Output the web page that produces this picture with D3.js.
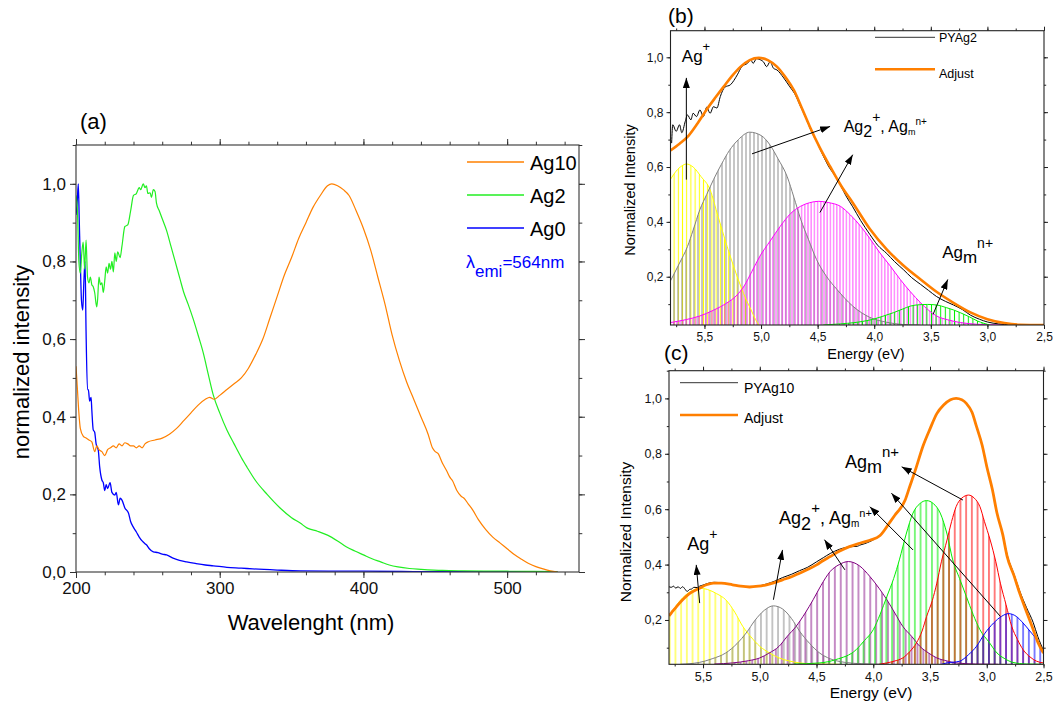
<!DOCTYPE html>
<html>
<head>
<meta charset="utf-8">
<script src="https://cdn.jsdelivr.net/npm/d3@7/dist/d3.min.js"></script>
<style>
body { margin: 0; background: #fff; }
svg text { font-family: "Liberation Sans", Arial, sans-serif; }
</style>
</head>
<body>
<div id="chart"></div>
<script>
"use strict";

// ---- panel (a): excitation spectra, [wavelength nm, normalized intensity]
const ag10 = [[200,0.53],[201,0.47],[202,0.41],[203,0.37],[205,0.35],[207,0.345],[209,0.34],[211,0.335],[213,0.31],[214.5,0.325],[216,0.315],[218,0.31],[220,0.30],[222,0.315],[224,0.32],[226,0.325],[228,0.32],[230,0.33],[232,0.325],[234,0.333],[236,0.33],[238,0.325],[240,0.325],[242,0.32],[244,0.325],[246,0.32],[248,0.33],[250,0.335],[255,0.34],[260,0.345],[265,0.355],[270,0.37],[275,0.39],[280,0.41],[285,0.43],[290,0.445],[293,0.45],[296,0.445],[300,0.455],[305,0.47],[310,0.485],[315,0.50],[320,0.525],[325,0.56],[330,0.60],[335,0.655],[340,0.71],[345,0.765],[350,0.81],[355,0.86],[360,0.90],[365,0.94],[370,0.97],[375,0.995],[378,1.0],[382,0.995],[386,0.985],[390,0.97],[395,0.93],[400,0.885],[405,0.83],[410,0.76],[415,0.69],[420,0.61],[425,0.545],[430,0.49],[435,0.445],[440,0.40],[445,0.355],[448,0.32],[450,0.31],[452,0.305],[455,0.28],[458,0.26],[460,0.245],[462,0.235],[465,0.21],[468,0.195],[470,0.19],[473,0.175],[476,0.16],[480,0.135],[485,0.11],[490,0.09],[495,0.075],[500,0.06],[505,0.045],[510,0.033],[515,0.022],[520,0.014],[525,0.008],[530,0.003],[535,0.0]];
const ag2 = [[200,0.97],[201,0.93],[202,0.80],[203,0.77],[204,0.82],[205,0.85],[206,0.78],[207,0.855],[208,0.76],[209,0.745],[210,0.76],[211,0.74],[212,0.735],[213,0.72],[214.4,0.683],[215,0.70],[216,0.76],[217,0.74],[218,0.745],[219,0.72],[220,0.75],[221,0.786],[222,0.77],[223,0.795],[224,0.78],[225,0.80],[226,0.773],[227,0.822],[228,0.80],[229,0.825],[230.7,0.81],[232,0.84],[234,0.89],[236,0.894],[238,0.93],[240,0.97],[242,0.975],[244,0.99],[245,0.985],[246.8,1.0],[248,0.99],[249,0.995],[250,0.975],[251.6,0.977],[252.5,0.965],[253.8,0.985],[255,0.98],[256,0.95],[258,0.93],[260,0.91],[263,0.88],[266,0.84],[269,0.80],[272.5,0.753],[275,0.72],[278,0.69],[281.7,0.65],[285,0.61],[288.6,0.564],[292,0.51],[295.6,0.455],[300,0.41],[305,0.366],[310,0.33],[315,0.295],[319,0.27],[325,0.235],[333,0.2],[342,0.165],[350,0.14],[356,0.126],[361,0.113],[368,0.105],[375,0.095],[382,0.08],[388,0.065],[394,0.054],[400,0.044],[406,0.034],[412,0.026],[418,0.018],[424,0.013],[432,0.009],[440,0.007],[455,0.004],[470,0.003],[500,0.002],[535,0.001]];
const ag0 = [[200,0.92],[200.8,0.95],[201.6,1.0],[202.3,0.90],[203,0.80],[203.8,0.70],[204.7,0.675],[205.5,0.75],[206.3,0.80],[207,0.62],[208,0.47],[208.6,0.47],[209.5,0.44],[210.5,0.45],[211,0.418],[212,0.366],[213,0.36],[214,0.33],[215.5,0.314],[216.5,0.27],[218,0.237],[219,0.23],[220,0.21],[221,0.225],[222,0.215],[223.7,0.23],[225,0.205],[227,0.198],[228,0.205],[229.5,0.173],[230.7,0.19],[232,0.185],[234,0.165],[236.5,0.152],[238,0.13],[240,0.115],[242,0.103],[244,0.09],[246,0.08],[248,0.073],[249,0.07],[251,0.06],[253.8,0.052],[257,0.05],[260,0.046],[263,0.044],[268,0.035],[272,0.03],[277,0.026],[283,0.022],[290,0.018],[295.6,0.016],[305,0.012],[315,0.01],[323,0.008],[340,0.005],[356,0.003],[400,0.002],[450,0.001],[535,0.001]];
const aSeries = ["Ag10", "Ag2", "Ag0"];
const aTicksX = [200, 300, 400, 500];
const aTicksY = [0, 0.2, 0.4, 0.6, 0.8, 1.0];

// ---- panel (b): PYAg2 deconvolution, [energy eV, normalized intensity]
const bData = [[5.79,0.687],[5.78,0.754],[5.75,0.73],[5.72,0.754],[5.70,0.725],[5.67,0.766],[5.65,0.79],[5.62,0.772],[5.60,0.796],[5.57,0.784],[5.54,0.808],[5.51,0.784],[5.48,0.818],[5.45,0.796],[5.42,0.82],[5.39,0.815],[5.36,0.857],[5.32,0.891],[5.27,0.90],[5.21,0.936],[5.17,0.966],[5.12,0.978],[5.09,0.99],[5.07,0.978],[5.04,0.995],[5.02,0.993],[5.0,0.99],[4.98,0.984],[4.95,0.966],[4.92,0.984],[4.89,0.96],[4.86,0.954],[4.80,0.925],[4.75,0.895],[4.70,0.865],[4.65,0.82],[4.60,0.775],[4.55,0.725],[4.50,0.685],[4.45,0.64],[4.40,0.60],[4.35,0.57],[4.30,0.535],[4.25,0.495],[4.19,0.455],[4.12,0.405],[4.04,0.355],[3.97,0.315],[3.89,0.285],[3.82,0.255],[3.74,0.225],[3.67,0.197],[3.59,0.172],[3.52,0.15],[3.45,0.128],[3.37,0.11],[3.30,0.097],[3.22,0.08],[3.15,0.06],[3.07,0.045],[3.0,0.035],[2.9,0.028],[2.8,0.025],[2.5,0.024]];
const bFit = [[5.8,0.66],[5.72,0.685],[5.65,0.71],[5.56,0.76],[5.48,0.81],[5.40,0.855],[5.33,0.893],[5.25,0.935],[5.18,0.966],[5.10,0.99],[5.02,0.998],[4.94,0.99],[4.86,0.966],[4.78,0.925],[4.71,0.88],[4.64,0.815],[4.57,0.748],[4.48,0.67],[4.39,0.602],[4.29,0.53],[4.19,0.47],[4.04,0.375],[3.89,0.30],[3.74,0.24],[3.59,0.19],[3.45,0.145],[3.30,0.105],[3.15,0.07],[3.0,0.045],[2.85,0.031],[2.71,0.025],[2.5,0.024]];
const bYellow = [[5.8,0.555],[5.75,0.585],[5.70,0.604],[5.66,0.611],[5.60,0.60],[5.53,0.565],[5.45,0.517],[5.38,0.42],[5.30,0.311],[5.24,0.235],[5.18,0.166],[5.13,0.115],[5.09,0.081],[5.05,0.045],[5.02,0.024]];
const bGray = [[5.8,0.185],[5.72,0.25],[5.65,0.31],[5.60,0.37],[5.54,0.445],[5.48,0.50],[5.42,0.554],[5.35,0.61],[5.28,0.66],[5.20,0.70],[5.10,0.727],[5.00,0.715],[4.92,0.68],[4.85,0.63],[4.77,0.566],[4.71,0.49],[4.65,0.41],[4.58,0.335],[4.51,0.263],[4.42,0.20],[4.33,0.154],[4.19,0.093],[4.04,0.052],[3.89,0.034],[3.75,0.026],[3.6,0.024]];
const bMagenta = [[5.8,0.033],[5.67,0.043],[5.54,0.057],[5.42,0.078],[5.30,0.105],[5.22,0.13],[5.15,0.166],[5.08,0.22],[5.01,0.275],[4.92,0.33],[4.83,0.384],[4.74,0.43],[4.65,0.457],[4.57,0.47],[4.49,0.475],[4.40,0.47],[4.30,0.457],[4.21,0.425],[4.12,0.384],[4.04,0.34],[3.95,0.287],[3.86,0.24],[3.77,0.19],[3.68,0.145],[3.59,0.105],[3.52,0.078],[3.45,0.057],[3.35,0.043],[3.24,0.033],[3.1,0.027],[3.0,0.025],[2.8,0.024]];
const bGreen = [[4.45,0.024],[4.30,0.028],[4.17,0.033],[4.04,0.042],[3.93,0.055],[3.83,0.069],[3.75,0.082],[3.68,0.093],[3.60,0.098],[3.53,0.099],[3.45,0.097],[3.36,0.087],[3.30,0.079],[3.24,0.069],[3.16,0.054],[3.09,0.039],[3.03,0.03],[2.98,0.024]];

// ---- panel (c): PYAg10 deconvolution
const cData = [[5.80,0.32],[5.78,0.318],[5.76,0.322],[5.74,0.315],[5.72,0.32],[5.70,0.314],[5.68,0.32],[5.66,0.312],[5.64,0.303],[5.62,0.31],[5.60,0.312],[5.58,0.318],[5.55,0.317],[5.53,0.322],[5.50,0.326],[5.45,0.333],[5.40,0.336],[5.35,0.335],[5.30,0.332],[5.24,0.328],[5.17,0.322],[5.09,0.32],[5.02,0.322],[4.94,0.33],[4.87,0.34],[4.80,0.353],[4.72,0.365],[4.65,0.378],[4.58,0.39],[4.50,0.41],[4.44,0.425],[4.38,0.44],[4.30,0.455],[4.24,0.462],[4.18,0.465],[4.14,0.466],[4.12,0.47],[4.08,0.475],[4.02,0.485],[3.94,0.507],[3.85,0.555],[3.81,0.578],[3.72,0.632],[3.68,0.68],[3.63,0.74],[3.56,0.83],[3.50,0.89],[3.44,0.945],[3.38,0.976],[3.32,0.995],[3.27,1.0],[3.22,0.995],[3.18,0.982],[3.13,0.95],[3.09,0.898],[3.04,0.83],[3.0,0.754],[2.95,0.67],[2.91,0.586],[2.86,0.51],[2.82,0.435],[2.76,0.365],[2.71,0.305],[2.65,0.245],[2.59,0.19],[2.55,0.14],[2.5,0.09]];
const cFit = [[5.80,0.215],[5.78,0.225],[5.73,0.25],[5.68,0.273],[5.62,0.295],[5.53,0.315],[5.47,0.327],[5.41,0.333],[5.34,0.333],[5.24,0.327],[5.17,0.322],[5.09,0.319],[5.01,0.322],[4.94,0.327],[4.87,0.335],[4.80,0.345],[4.72,0.356],[4.65,0.369],[4.57,0.384],[4.50,0.399],[4.44,0.415],[4.38,0.429],[4.30,0.448],[4.21,0.465],[4.12,0.477],[4.03,0.488],[3.94,0.505],[3.85,0.555],[3.81,0.578],[3.72,0.632],[3.68,0.68],[3.63,0.74],[3.56,0.83],[3.50,0.89],[3.44,0.945],[3.38,0.976],[3.32,0.995],[3.27,1.0],[3.22,0.995],[3.18,0.982],[3.13,0.95],[3.09,0.898],[3.04,0.83],[3.0,0.754],[2.95,0.67],[2.91,0.586],[2.86,0.51],[2.82,0.429],[2.76,0.36],[2.71,0.297],[2.65,0.23],[2.59,0.165],[2.55,0.12],[2.5,0.081]];
const cYellow = [[5.80,0.215],[5.74,0.25],[5.68,0.28],[5.60,0.305],[5.53,0.315],[5.46,0.31],[5.38,0.295],[5.30,0.273],[5.22,0.228],[5.15,0.177],[5.08,0.14],[5.00,0.105],[4.91,0.08],[4.83,0.063],[4.74,0.052],[4.65,0.045],[4.5,0.041],[4.3,0.04]];
const cGray = [[5.70,0.04],[5.53,0.047],[5.42,0.06],[5.30,0.081],[5.20,0.115],[5.12,0.153],[5.04,0.20],[4.96,0.235],[4.88,0.251],[4.80,0.24],[4.72,0.205],[4.65,0.16],[4.56,0.115],[4.47,0.08],[4.38,0.06],[4.25,0.047],[4.1,0.042],[3.9,0.04]];
const cPurple = [[5.4,0.041],[5.24,0.045],[5.10,0.053],[5.00,0.063],[4.92,0.08],[4.83,0.105],[4.76,0.14],[4.68,0.177],[4.60,0.225],[4.53,0.273],[4.46,0.325],[4.38,0.375],[4.30,0.40],[4.22,0.411],[4.12,0.395],[4.03,0.357],[3.95,0.315],[3.88,0.273],[3.81,0.225],[3.74,0.177],[3.66,0.14],[3.59,0.105],[3.51,0.08],[3.44,0.063],[3.35,0.052],[3.27,0.045],[3.1,0.041],[2.9,0.04]];
const cGreen = [[4.7,0.041],[4.47,0.045],[4.33,0.057],[4.15,0.093],[4.08,0.125],[4.00,0.165],[3.94,0.22],[3.88,0.285],[3.82,0.35],[3.77,0.417],[3.71,0.51],[3.65,0.586],[3.59,0.62],[3.53,0.631],[3.47,0.62],[3.41,0.586],[3.35,0.51],[3.30,0.417],[3.24,0.35],[3.18,0.285],[3.12,0.22],[3.06,0.165],[2.98,0.12],[2.91,0.081],[2.84,0.06],[2.77,0.047],[2.65,0.041],[2.5,0.04]];
const cRed = [[3.95,0.04],[3.88,0.045],[3.81,0.052],[3.74,0.063],[3.68,0.085],[3.62,0.117],[3.57,0.16],[3.53,0.213],[3.48,0.27],[3.44,0.333],[3.40,0.41],[3.35,0.489],[3.31,0.555],[3.27,0.609],[3.22,0.64],[3.16,0.651],[3.11,0.64],[3.06,0.609],[3.02,0.555],[2.97,0.489],[2.92,0.41],[2.88,0.333],[2.83,0.255],[2.78,0.177],[2.73,0.13],[2.68,0.093],[2.62,0.067],[2.56,0.051],[2.5,0.045]];
const cBlue = [[3.40,0.04],[3.35,0.045],[3.24,0.051],[3.16,0.075],[3.09,0.105],[3.02,0.15],[2.94,0.189],[2.87,0.213],[2.81,0.223],[2.74,0.213],[2.68,0.189],[2.62,0.16],[2.56,0.129],[2.5,0.087]];

const eTicksX = [5.5, 5.0, 4.5, 4.0, 3.5, 3.0, 2.5];
const eTicksY = [0.2, 0.4, 0.6, 0.8, 1.0];

// annotation arrows, [E0, v0, E1, v1] (tail -> head)
const bArrows = [[5.66,0.554,5.66,0.925],[5.08,0.648,4.39,0.748],[4.48,0.434,4.19,0.645],[3.48,0.063,3.35,0.19]];
const cArrows = [[5.53,0.261,5.56,0.399],[4.88,0.273,4.80,0.453],[4.25,0.381,4.43,0.49],[3.65,0.453,4.03,0.609],[3.21,0.633,3.75,0.753],[2.88,0.213,3.84,0.658]];

const W = 1054, H = 706;
const svg = d3.select("#chart").append("svg").attr("width", W).attr("height", H);
const defs = svg.append("defs");

defs.append("marker")
    .attr("id", "arrow")
    .attr("viewBox", "0 0 10 7")
    .attr("refX", 10).attr("refY", 3.5)
    .attr("markerWidth", 10).attr("markerHeight", 7)
    .attr("markerUnits", "userSpaceOnUse")
    .attr("orient", "auto")
  .append("path")
    .attr("d", "M0,0L10,3.5L0,7Z")
    .attr("fill", "#000");

function comma(d) { return d3.format(".1f")(d).replace(".", ","); }

function hatch(id, color, step, op) {
    const p = defs.append("pattern").attr("id", id)
        .attr("patternUnits", "userSpaceOnUse")
        .attr("width", step).attr("height", 8);
    p.append("line").attr("x1", step / 2).attr("x2", step / 2)
        .attr("y1", 0).attr("y2", 8)
        .attr("stroke", color).attr("stroke-width", 1).attr("stroke-opacity", op);
}

function minorsOf(domain, step) {
    const lo = Math.min(domain[0], domain[1]), hi = Math.max(domain[0], domain[1]);
    return d3.range(Math.ceil(lo / step - 1e-9) * step, hi + 1e-9, step).map(v => +v.toFixed(4));
}

function makePanel(cfg) {
    const g = svg.append("g");
    const x = d3.scaleLinear().domain(cfg.xDomain).range([cfg.left, cfg.right]);
    const y = d3.scaleLinear().domain(cfg.yDomain).range([cfg.bottom, cfg.top]);
    defs.append("clipPath").attr("id", "clip-" + cfg.id)
      .append("rect")
        .attr("x", cfg.left).attr("y", cfg.top)
        .attr("width", cfg.right - cfg.left).attr("height", cfg.bottom - cfg.top);
    const plot = g.append("g").attr("clip-path", "url(#clip-" + cfg.id + ")");
    const axes = g.append("g");
    const xMin = minorsOf(cfg.xDomain, cfg.xMinor);
    const yMin = minorsOf(cfg.yDomain, cfg.yMinor);
    const T = cfg.tick;

    const ax = [
        [d3.axisBottom(x).tickValues(cfg.xTicks).tickFormat(cfg.xFmt).tickSize(T).tickPadding(cfg.padX), "translate(0," + cfg.bottom + ")"],
        [d3.axisBottom(x).tickValues(xMin).tickFormat("").tickSize(T * 0.55), "translate(0," + cfg.bottom + ")"],
        [d3.axisTop(x).tickValues(cfg.xTicks).tickFormat("").tickSize(T), "translate(0," + cfg.top + ")"],
        [d3.axisTop(x).tickValues(xMin).tickFormat("").tickSize(T * 0.55), "translate(0," + cfg.top + ")"],
        [d3.axisLeft(y).tickValues(cfg.yTicks).tickFormat(comma).tickSize(T).tickPadding(cfg.padY), "translate(" + cfg.left + ",0)"],
        [d3.axisLeft(y).tickValues(yMin).tickFormat("").tickSize(T * 0.55), "translate(" + cfg.left + ",0)"],
        [d3.axisRight(y).tickValues(cfg.yTicks).tickFormat("").tickSize(T), "translate(" + cfg.right + ",0)"],
        [d3.axisRight(y).tickValues(yMin).tickFormat("").tickSize(T * 0.55), "translate(" + cfg.right + ",0)"]
    ];
    ax.forEach(([a, tr]) => {
        const s = axes.append("g").attr("transform", tr).call(a);
        s.select(".domain").remove();
        s.selectAll("line").attr("stroke", cfg.axisColor);
        s.selectAll("text").attr("font-size", cfg.tickFont).attr("fill", "#111")
            .attr("font-family", "Liberation Sans, Arial, sans-serif");
    });
    axes.append("rect")
        .attr("x", cfg.left).attr("y", cfg.top)
        .attr("width", cfg.right - cfg.left).attr("height", cfg.bottom - cfg.top)
        .attr("fill", "none").attr("stroke", cfg.axisColor).attr("stroke-width", 1.1);
    return { g, plot, x, y, cfg };
}

function drawLine(p, data, color, width) {
    const line = d3.line().x(d => p.x(d[0])).y(d => p.y(d[1])).curve(d3.curveMonotoneX);
    p.plot.append("path").datum(data)
        .attr("d", line).attr("fill", "none")
        .attr("stroke", color).attr("stroke-width", width)
        .attr("stroke-linejoin", "round");
}

function drawArea(p, data, patternId) {
    const area = d3.area().x(d => p.x(d[0])).y0(p.cfg.bottom).y1(d => p.y(d[1])).curve(d3.curveMonotoneX);
    p.plot.append("path").datum(data).attr("d", area).attr("fill", "url(#" + patternId + ")");
}

// rich text: parts = [[text, baseline shift, font size]]
function richText(parent, x, y, parts, color) {
    const t = parent.append("text").attr("x", x).attr("y", y).attr("fill", color || "#000");
    let prev = 0;
    parts.forEach(([s, shift, size]) => {
        t.append("tspan").attr("dy", shift - prev).attr("font-size", size).text(s);
        prev = shift;
    });
    return t;
}

function arrows(p, list) {
    p.g.append("g").selectAll("line").data(list).enter().append("line")
        .attr("x1", d => p.x(d[0])).attr("y1", d => p.y(d[1]))
        .attr("x2", d => p.x(d[2])).attr("y2", d => p.y(d[3]))
        .attr("stroke", "#000").attr("stroke-width", 1)
        .attr("marker-end", "url(#arrow)");
}

// ================= panel (a) =================
const pa = makePanel({
    id: "a", left: 76, right: 579, top: 145, bottom: 572,
    xDomain: [200, 550], yDomain: [0, 1.1],
    xTicks: aTicksX, yTicks: aTicksY, xMinor: 20, yMinor: 0.1,
    xFmt: d3.format("d"), tick: 6, padX: 4, padY: 4, tickFont: "17px", axisColor: "#333"
});
const aColors = ["#ff8000", "#22ee22", "#0000ff"];
drawLine(pa, ag0, aColors[2], 1.3);
drawLine(pa, ag2, aColors[1], 1.2);
drawLine(pa, ag10, aColors[0], 1.2);

pa.g.append("text").attr("x", 80).attr("y", 129).attr("font-size", "22px").text("(a)");
pa.g.append("text").attr("x", 311).attr("y", 630).attr("text-anchor", "middle")
    .attr("font-size", "22px").text("Wavelenght (nm)");
pa.g.append("text").attr("transform", "translate(29,362) rotate(-90)")
    .attr("text-anchor", "middle").attr("font-size", "22px").text("normalized intensity");

const aLeg = pa.g.append("g").selectAll("g").data(aSeries).enter().append("g")
    .attr("transform", (d, i) => "translate(467," + (162 + i * 33) + ")");
aLeg.append("line").attr("x1", 0).attr("x2", 57).attr("y1", 0).attr("y2", 0)
    .attr("stroke", (d, i) => aColors[i]).attr("stroke-width", 1.4);
aLeg.append("text").attr("x", 63).attr("y", 8).attr("font-size", "20px").text(d => d);
richText(pa.g, 466, 268, [["λ", 0, "18px"], ["emi", 9, "17px"], ["=564nm", 0, "17px"]], "#0000ff");

// ================= panel (b) =================
const pb = makePanel({
    id: "b", left: 670.5, right: 1044, top: 30.7, bottom: 325,
    xDomain: [5.8, 2.5], yDomain: [0.024, 1.097],
    xTicks: eTicksX, yTicks: eTicksY, xMinor: 0.25, yMinor: 0.1,
    xFmt: comma, tick: 4, padX: 3, padY: 3, tickFont: "12px", axisColor: "#222"
});
hatch("hb-y", "#ffff00", 4.2, 1);
hatch("hb-g", "#808080", 4, 0.9);
hatch("hb-m", "#ff00ff", 3.2, 0.7);
hatch("hb-gr", "#00ee00", 4.6, 1);
drawArea(pb, bYellow, "hb-y");
drawArea(pb, bGray, "hb-g");
drawArea(pb, bMagenta, "hb-m");
drawArea(pb, bGreen, "hb-gr");
drawLine(pb, bYellow, "#ffff00", 1);
drawLine(pb, bGray, "#808080", 1);
drawLine(pb, bMagenta, "#ff00ff", 1);
drawLine(pb, bGreen, "#00ee00", 1);
drawLine(pb, bData, "#000", 1);
drawLine(pb, bFit, "#ff7f00", 2.6);
arrows(pb, bArrows);

pb.g.append("text").attr("x", 668).attr("y", 23).attr("font-size", "21px").text("(b)");
pb.g.append("text").attr("x", 866).attr("y", 359).attr("text-anchor", "middle")
    .attr("font-size", "14.5px").text("Energy (eV)");
pb.g.append("text").attr("transform", "translate(635,190) rotate(-90)")
    .attr("text-anchor", "middle").attr("font-size", "14.5px").text("Normalized Intensity");
richText(pb.g, pb.x(5.70), pb.y(0.983), [["Ag", 0, "17px"], ["+", -11, "13px"]]);
richText(pb.g, pb.x(4.27), pb.y(0.728), [["Ag", 0, "16px"], ["2", 5, "16px"], ["+", -10, "14px"], [", Ag", 0, "16px"], ["m", 3, "9px"], ["n+", -7, "10px"]]);
richText(pb.g, pb.x(3.40), pb.y(0.27), [["Ag", 0, "17px"], ["m", 5, "17px"], ["n+", -10, "14px"]]);

const bLeg = pb.g.append("g").attr("transform", "translate(875,37.3)");
bLeg.append("line").attr("x2", 60).attr("stroke", "#333").attr("stroke-width", 1);
bLeg.append("text").attr("x", 64).attr("y", 5).attr("font-size", "12.5px").text("PYAg2");
bLeg.append("line").attr("x2", 60).attr("y1", 32).attr("y2", 32).attr("stroke", "#ff7f00").attr("stroke-width", 2.5);
bLeg.append("text").attr("x", 64).attr("y", 41).attr("font-size", "12.5px").text("Adjust");

// ================= panel (c) =================
const pc = makePanel({
    id: "c", left: 669, right: 1043.5, top: 370.7, bottom: 664.3,
    xDomain: [5.8, 2.5], yDomain: [0.04, 1.1],
    xTicks: eTicksX, yTicks: eTicksY, xMinor: 0.25, yMinor: 0.1,
    xFmt: comma, tick: 4, padX: 4, padY: 3, tickFont: "12.5px", axisColor: "#222"
});
hatch("hc-y", "#ffff00", 5.7, 1);
hatch("hc-g", "#808080", 5.7, 0.9);
hatch("hc-p", "#800080", 5.9, 0.9);
hatch("hc-gr", "#00ee00", 5.7, 1);
hatch("hc-r", "#ff0000", 5.7, 1);
hatch("hc-b", "#0000ff", 5.7, 1);
drawArea(pc, cYellow, "hc-y");
drawArea(pc, cGray, "hc-g");
drawArea(pc, cPurple, "hc-p");
drawArea(pc, cGreen, "hc-gr");
drawArea(pc, cRed, "hc-r");
drawArea(pc, cBlue, "hc-b");
drawLine(pc, cYellow, "#ffff00", 1);
drawLine(pc, cGray, "#808080", 1);
drawLine(pc, cPurple, "#800080", 1);
drawLine(pc, cGreen, "#00ee00", 1);
drawLine(pc, cRed, "#ff0000", 1);
drawLine(pc, cBlue, "#0000ff", 1);
drawLine(pc, cData, "#000", 1);
drawLine(pc, cFit, "#ff7f00", 2.8);
arrows(pc, cArrows);

pc.g.append("text").attr("x", 664).attr("y", 360).attr("font-size", "21px").text("(c)");
pc.g.append("text").attr("x", 871).attr("y", 698).attr("text-anchor", "middle")
    .attr("font-size", "15.5px").text("Energy (eV)");
pc.g.append("text").attr("transform", "translate(631,532) rotate(-90)")
    .attr("text-anchor", "middle").attr("font-size", "15.5px").text("Normalized Intensity");
richText(pc.g, pc.x(5.64), pc.y(0.453), [["Ag", 0, "18px"], ["+", -11, "14px"]]);
richText(pc.g, pc.x(4.83), pc.y(0.547), [["Ag", 0, "18px"], ["2", 6, "18px"], ["+", -11, "15px"], [", Ag", 0, "18px"], ["m", 3, "10px"], ["n+", -7, "11px"]]);
richText(pc.g, pc.x(4.25), pc.y(0.749), [["Ag", 0, "18px"], ["m", 5, "18px"], ["n+", -11, "15px"]]);

const cLeg = pc.g.append("g").attr("transform", "translate(680,382.7)");
cLeg.append("line").attr("x2", 58).attr("stroke", "#333").attr("stroke-width", 1);
cLeg.append("text").attr("x", 64).attr("y", 10).attr("font-size", "14px").text("PYAg10");
cLeg.append("line").attr("x2", 58).attr("y1", 32.3).attr("y2", 32.3).attr("stroke", "#ff7f00").attr("stroke-width", 2.5);
cLeg.append("text").attr("x", 64).attr("y", 40).attr("font-size", "14px").text("Adjust");
</script>
</body>
</html>
